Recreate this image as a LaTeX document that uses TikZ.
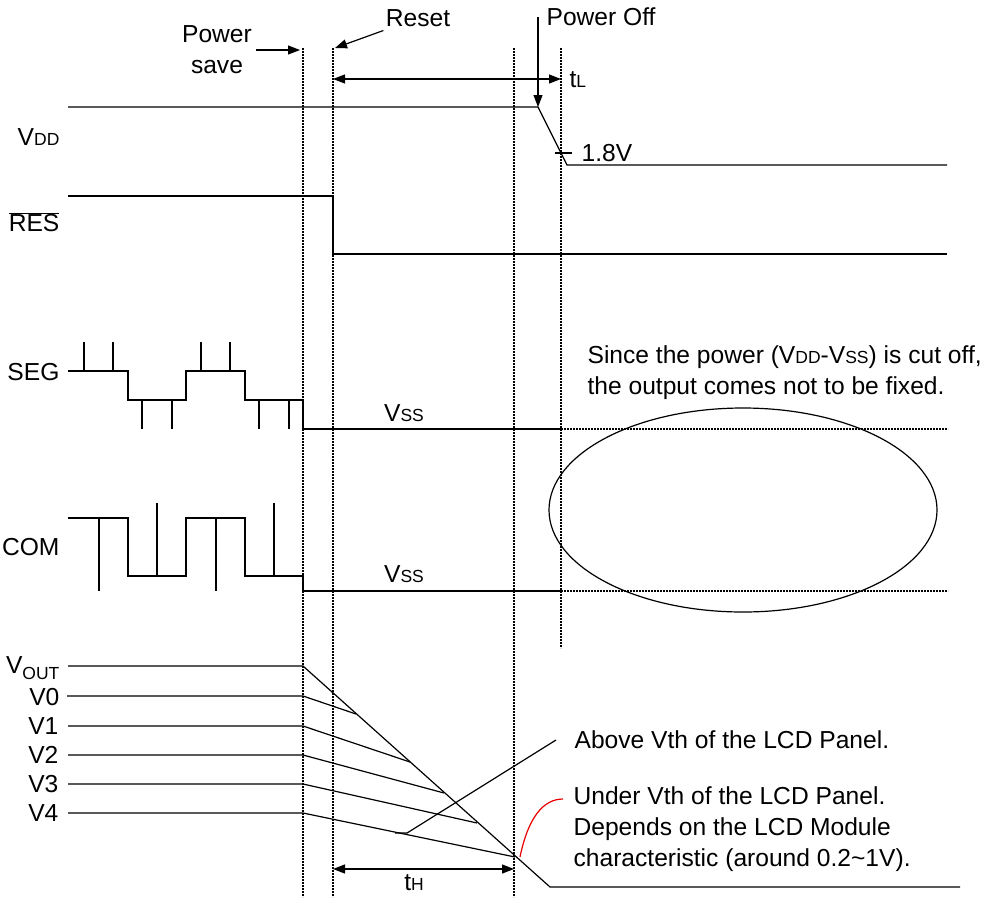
\documentclass[tikz,border=0pt]{standalone}
\usepackage{fontspec}
\setmainfont{Liberation Sans}
\usepackage{xcolor}
\usetikzlibrary{arrows.meta}
\definecolor{traceblack}{RGB}{0,0,0}
\definecolor{notered}{RGB}{230,0,0}
\newcommand{\lo}[1]{{\fontsize{17.5}{17.5}\selectfont #1}}

\begin{document}
\begin{tikzpicture}[x=1pt, y=-1pt, line width=1.2pt, traceblack,
    font=\fontsize{24.6}{31}\selectfont,
    >={Triangle[length=12pt,width=9pt]},
    guide/.style={line width=2.6pt, dash pattern=on 2pt off 1pt},
    lbl/.style={anchor=east, inner sep=2pt}]
    \useasboundingbox (0,0) rectangle (984,897);

    % Guide lines
    \draw[guide] (303,48) -- (303,897);
    \draw[guide] (333,48) -- (333,897);
    \draw[guide] (514,48) -- (514,897);
    \draw[guide] (561,48) -- (561,648);

    % Event labels
    \node[align=center] (psave) at (217,50) {Power\\save};
    \coordinate (psaveTip) at (300,50);
    \draw[->] (psave) -- (psaveTip);
    \node (reset) at (418,18) {Reset};
    \coordinate (resetTip) at (335,48);
    \draw[->] (reset) -- (resetTip);
    \node[anchor=west, inner sep=1pt] (poff) at (545,17) {Power Off};
    \coordinate (vddKnee) at (538,107);
    \draw[->] (poff.west -| vddKnee) -- (vddKnee);

    % t_L span
    \coordinate (tLa) at (333,79);
    \coordinate (tLb) at (561,79);
    \draw[<->] (tLa) -- (tLb);
    \node[anchor=west, inner sep=1pt] (tL) at (568,80) {t\lo{L}};

    % VDD and RES
    \node[lbl] (vdd) at (62,137) {V\lo{DD}};
    \draw (68,107) -- (vddKnee) -- (567,165) -- (947,165);
    \draw (555,153) -- (572,153);
    \node[anchor=west, inner sep=1pt] (v18) at (580,153) {1.8V};
    \node[lbl] (res) at (62,222) {$\overline{\hbox{RES}}$};
    \draw (68,196) -- (333,196) -- (333,254) -- (947,254);

    % SEG
    \node[lbl] (seg) at (62,372) {SEG};
    \draw (68,371) -- (128,371) -- (128,400) -- (186,400) -- (186,371)
        -- (245,371) -- (245,400) -- (303,400) -- (303,429) -- (561,429);
    \draw[guide] (561,429) -- (948,429);
    \foreach \x in {84,113,201,230} \draw (\x,371) -- (\x,342);
    \foreach \x in {142,172,259,289} \draw (\x,400) -- (\x,429);
    \node (vssa) at (404,413) {V\lo{SS}};

    % COM
    \node[lbl] (com) at (62,547) {COM};
    \draw (68,518) -- (128,518) -- (128,576) -- (186,576) -- (186,518)
        -- (245,518) -- (245,576) -- (303,576) -- (303,591) -- (561,591);
    \draw[guide] (561,591) -- (948,591);
    \foreach \x in {99,216} \draw (\x,518) -- (\x,591);
    \foreach \x in {157,274} \draw (\x,576) -- (\x,503);
    \node (vssb) at (404,574) {V\lo{SS}};

    % Floating outputs
    \node[anchor=west, align=left, inner sep=1pt] (float) at (586,373)
        {Since the power (V\lo{DD}-V\lo{SS}) is cut off,\\the output comes not to be fixed.};
    \draw (743,510) ellipse [x radius=194, y radius=102];

    % Voltage discharge
    \node[lbl] (vout) at (62,668) {V\raisebox{-6pt}{\lo{OUT}}};
    \node[lbl] (v0) at (62,697) {V0};
    \node[lbl] (v1) at (61,726) {V1};
    \node[lbl] (v2) at (61,755) {V2};
    \node[lbl] (v3) at (61,784) {V3};
    \node[lbl] (v4) at (61,813) {V4};
    \draw (68,666) -- (303,666) -- (550,887) -- (960,887);
    \draw (67,696) -- (303,696) -- (356,714);
    \draw (68,726) -- (303,726) -- (410,762);
    \draw (68,755) -- (303,755) -- (444,793);
    \draw (68,784) -- (303,784) -- (477,823);
    \draw (68,813) -- (303,813) -- (515,857);

    % Threshold notes
    \node[anchor=west, inner sep=1pt] (above) at (573,740) {Above Vth of the LCD Panel.};
    \draw (395,833) -- (407,833) -- ([xshift=-17pt]above.west);
    \node[anchor=west, align=left, inner sep=1pt] (under) at (572,829)
        {Under Vth of the LCD Panel.\\Depends on the LCD Module\\characteristic (around 0.2\textasciitilde 1V).};
    \draw[notered] (520,857) .. controls (528,818) and (543,799) .. ([xshift=-9pt]under.west |- 0,799);

    % t_H span
    \coordinate (tHa) at (333,869);
    \coordinate (tHb) at (514,869);
    \draw[<->] (tHa) -- (tHb);
    \node[inner sep=1pt] (tH) at (414,883) {t\lo{H}};
\end{tikzpicture}
\end{document}
